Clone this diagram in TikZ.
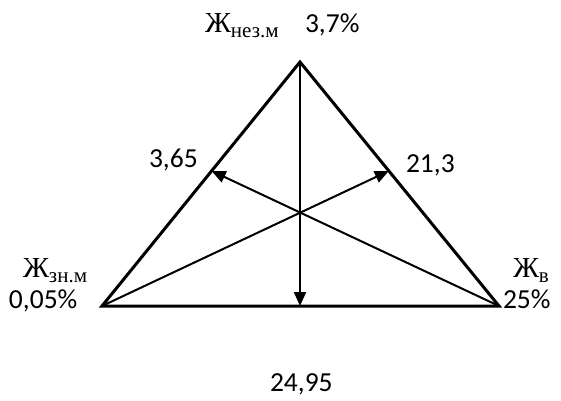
\documentclass[tikz,border=0pt]{standalone}
\usepackage{fontspec}
\setmainfont{Carlito}
\newfontfamily\cyrser{Liberation Serif}
\usetikzlibrary{arrows.meta,calc}
\newcommand{\zhlab}[1]{{\cyrser\fontsize{29}{32}\selectfont Ж\raisebox{-5pt}{\fontsize{21}{23}\selectfont #1}}}
\begin{document}
\begin{tikzpicture}[x=1pt, y=-1pt, font=\fontsize{27.5}{31}\selectfont, line width=2pt,
  >={Triangle[length=14pt,width=12pt]},
  lab/.style={anchor=base west, inner sep=0pt}]
  \useasboundingbox (0,0) rectangle (561,400);
  \coordinate (top) at (300,62);
  \coordinate (bl) at (102,306);
  \coordinate (br) at (499,306);
  \coordinate (mb) at (300,306);
  \coordinate (ml) at ($(bl)!0.5536!(top)$);
  \coordinate (mr) at ($(br)!0.5536!(top)$);
  \draw[line width=3pt] (top) -- (bl) -- (br) -- cycle;
  \draw[->] (top) -- (mb);
  \draw[->] (br) -- (ml);
  \draw[->] (bl) -- (mr);
  \node[lab] (knezm) at (204,32) {\zhlab{нез.м}};
  \node[lab] (p37) at (304,32) {3,7\%};
  \node[lab] (v365) at (148,167) {3,65};
  \node[lab] (v213) at (405,172) {21,3};
  \node[lab] (kznm) at (22,277) {\zhlab{зн.м}};
  \node[lab] (p005) at (8,308) {0,05\%};
  \node[lab] (kv) at (512,277) {\zhlab{в}};
  \node[lab] (p25) at (502,308) {25\%};
  \node[lab] (v2495) at (269,391) {24,95};
\end{tikzpicture}
\end{document}
